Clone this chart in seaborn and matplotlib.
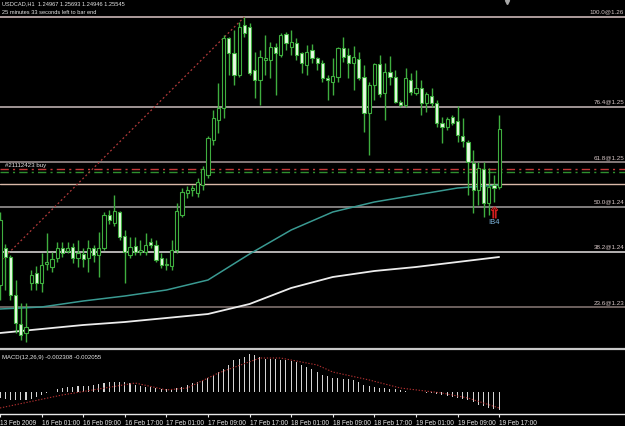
import numpy as np
import pandas as pd
import matplotlib
matplotlib.use("Agg")
import matplotlib.pyplot as plt
import seaborn as sns

sns.set_style("dark")
plt.rcParams['font.family'] = ['Liberation Sans', 'DejaVu Sans']

# ---------------- data ----------------
opens = [1.2399, 1.2436, 1.2427, 1.2389, 1.2360, 1.2351, 1.2401, 1.2411, 1.2401, 1.2420,
         1.2417, 1.2426, 1.2436, 1.2433, 1.2437, 1.2426, 1.2430, 1.2426, 1.2436, 1.2429,
         1.2436, 1.2469, 1.2461, 1.2472, 1.2448, 1.2429, 1.2438, 1.2432, 1.2432, 1.2442,
         1.2439, 1.2426, 1.2419, 1.2418, 1.2434, 1.2469, 1.2491, 1.2494, 1.2491, 1.2499,
         1.2509, 1.2544, 1.2564, 1.2576, 1.2646, 1.2631, 1.2609, 1.2659, 1.2657, 1.2614,
         1.2604, 1.2624, 1.2624, 1.2637, 1.2629, 1.2650, 1.2637, 1.2641, 1.2631, 1.2619,
         1.2634, 1.2626, 1.2621, 1.2606, 1.2602, 1.2607, 1.2636, 1.2629, 1.2621, 1.2625,
         1.2607, 1.2571, 1.2599, 1.2620, 1.2591, 1.2612, 1.2607, 1.2582, 1.2579, 1.2604,
         1.2591, 1.2596, 1.2581, 1.2588, 1.2581, 1.2561, 1.2557, 1.2567, 1.2563, 1.2548,
         1.2542, 1.2521, 1.2494, 1.2515, 1.2481, 1.2499, 1.24967]
highs = [1.2472, 1.2440, 1.2429, 1.2404, 1.2381, 1.2381, 1.2414, 1.2418, 1.2431, 1.2451,
         1.2432, 1.2442, 1.2442, 1.2442, 1.2441, 1.2444, 1.2436, 1.2444, 1.2439, 1.2452,
         1.2472, 1.2474, 1.2489, 1.2473, 1.2454, 1.2447, 1.2447, 1.2444, 1.2451, 1.2446,
         1.2444, 1.2431, 1.2426, 1.2444, 1.2481, 1.2496, 1.2498, 1.2499, 1.2506, 1.2518,
         1.2548, 1.2574, 1.2601, 1.2649, 1.2647, 1.2654, 1.2662, 1.2667, 1.2661, 1.2632,
         1.2634, 1.2649, 1.2642, 1.2641, 1.2651, 1.2652, 1.2654, 1.2646, 1.2632, 1.2639,
         1.2640, 1.2627, 1.2624, 1.2609, 1.2626, 1.2637, 1.2647, 1.2636, 1.2638, 1.2632,
         1.2619, 1.2602, 1.2621, 1.2629, 1.2621, 1.2628, 1.2614, 1.2584, 1.2616, 1.2611,
         1.2614, 1.2604, 1.2592, 1.2596, 1.2584, 1.2567, 1.2567, 1.2569, 1.2578, 1.2566,
         1.2544, 1.2534, 1.2522, 1.2522, 1.2516, 1.2509, 1.25693]
lows = [1.2384, 1.2394, 1.2384, 1.2351, 1.2344, 1.2342, 1.2394, 1.2394, 1.2392, 1.2414,
        1.2412, 1.2422, 1.2427, 1.2431, 1.2421, 1.2417, 1.2417, 1.2412, 1.2422, 1.2407,
        1.2434, 1.2460, 1.2458, 1.2444, 1.2401, 1.2426, 1.2429, 1.2429, 1.2429, 1.2436,
        1.2422, 1.2416, 1.2414, 1.2414, 1.2431, 1.2467, 1.2486, 1.2488, 1.2487, 1.2494,
        1.2506, 1.2539, 1.2551, 1.2566, 1.2609, 1.2599, 1.2607, 1.2647, 1.2609, 1.2586,
        1.2579, 1.2609, 1.2606, 1.2589, 1.2627, 1.2634, 1.2629, 1.2624, 1.2611, 1.2609,
        1.2621, 1.2614, 1.2602, 1.2584, 1.2589, 1.2602, 1.2622, 1.2606, 1.2594, 1.2604,
        1.2552, 1.2529, 1.2584, 1.2587, 1.2564, 1.2599, 1.2581, 1.2577, 1.2577, 1.2589,
        1.2589, 1.2569, 1.2572, 1.2577, 1.2557, 1.2541, 1.2554, 1.2559, 1.2542, 1.2537,
        1.2489, 1.2471, 1.2479, 1.2467, 1.2469, 1.2482, 1.24946]
closes = [1.2464, 1.2427, 1.2389, 1.2361, 1.2349, 1.2357, 1.2409, 1.2401, 1.2419, 1.2422,
          1.2425, 1.2436, 1.2431, 1.2436, 1.2426, 1.2431, 1.2425, 1.2436, 1.2429, 1.2436,
          1.2469, 1.2464, 1.2473, 1.2447, 1.2432, 1.2437, 1.2432, 1.2434, 1.2439, 1.2439,
          1.2424, 1.2419, 1.2420, 1.2434, 1.2473, 1.2492, 1.2494, 1.2496, 1.2502, 1.2515,
          1.2546, 1.2566, 1.2576, 1.2646, 1.2631, 1.2609, 1.2657, 1.2651, 1.2611, 1.2604,
          1.2627, 1.2626, 1.2637, 1.2631, 1.2649, 1.2641, 1.2642, 1.2629, 1.2621, 1.2632,
          1.2626, 1.2621, 1.2606, 1.2604, 1.2608, 1.2636, 1.2627, 1.2621, 1.2627, 1.2606,
          1.2571, 1.2599, 1.2620, 1.2590, 1.2612, 1.2607, 1.2582, 1.2579, 1.2606, 1.2592,
          1.2596, 1.2581, 1.2590, 1.2581, 1.2561, 1.2557, 1.2565, 1.2561, 1.2549, 1.2543,
          1.2522, 1.2494, 1.2516, 1.2481, 1.2497, 1.2496, 1.25545]

ma_bars = [0, 8, 16, 24, 32, 40, 48, 56, 64, 72, 80, 88, 96]
ma_fast = [1.2375, 1.2377, 1.2383, 1.2388, 1.2394, 1.2404, 1.2430, 1.2454, 1.2472,
           1.2482, 1.2489, 1.2496, 1.2499]
ma_slow = [1.2351, 1.2355, 1.2359, 1.2362, 1.2366, 1.2370, 1.2380, 1.2396, 1.2407,
           1.2413, 1.2417, 1.2422, 1.2427]

macd = [-0.00077, -0.00090, -0.00102, -0.00102, -0.00109, -0.00102, -0.00090, -0.00064,
        -0.00038, -0.00019, 0.00006, 0.00032, 0.00045, 0.00064, 0.00064, 0.00077, 0.00083,
        0.00083, 0.00090, 0.00096, 0.00109, 0.00122, 0.00134, 0.00128, 0.00122, 0.00109,
        0.00090, 0.00083, 0.00070, 0.00064, 0.00051, 0.00038, 0.00032, 0.00038, 0.00051,
        0.00070, 0.00090, 0.00115, 0.00128, 0.00147, 0.00179, 0.00218, 0.00256, 0.00294,
        0.00346, 0.00410, 0.00422, 0.00448, 0.00486, 0.00474, 0.00448, 0.00422, 0.00422,
        0.00422, 0.00410, 0.00410, 0.00397, 0.00384, 0.00346, 0.00320, 0.00294, 0.00256,
        0.00218, 0.00205, 0.00179, 0.00179, 0.00166, 0.00166, 0.00154, 0.00128, 0.00090,
        0.00077, 0.00064, 0.00051, 0.00051, 0.00038, 0.00038, 0.00026, 0.00013, 0.00004,
        0.00003, -0.00006, -0.00013, -0.00019, -0.00026, -0.00038, -0.00051, -0.00064,
        -0.00077, -0.00090, -0.00102, -0.00128, -0.00166, -0.00179, -0.00205, -0.00218,
        -0.002308]
signal_bars = [0, 12, 26, 32, 36, 42, 50, 54, 61, 64, 71, 77, 85, 90, 96]
signal = [-0.00205, -0.00038, 0.00115, 0.00026, 0.00051, 0.00243, 0.00435, 0.00435,
          0.00346, 0.00256, 0.00154, 0.00051, -0.00013, -0.00077, -0.002055]

tick_bars = [0, 8, 16, 24, 32, 40, 48, 56, 64, 72, 80, 88, 96]
tick_labels = ["13 Feb 2009", "16 Feb 01:00", "16 Feb 09:00", "16 Feb 17:00",
               "17 Feb 01:00", "17 Feb 09:00", "17 Feb 17:00", "18 Feb 01:00",
               "18 Feb 09:00", "18 Feb 17:00", "19 Feb 01:00", "19 Feb 09:00",
               "19 Feb 17:00"]

fib_low = 1.2287
fib_high = 1.2667
fib_anchor_bars = [-26, 47]
fib_pcts = [100.0, 76.4, 61.8, 50.0, 38.2, 23.6]
fib_labels = ["100.0@1.26", "76.4@1.25", "61.8@1.25", "50.0@1.24", "38.2@1.24", "23.6@1.23"]
fib_colors = ["#dcc6c6", "#cbbcbc", "#a89a9a", "#a4a0a0", "#e6e2e2", "#8a7a78"]

order_label = "#21112423 buy"
order_price = 1.2515
order_stop = 1.2512
level_line = 1.2500
arrow_bar = 95
arrow_price = 1.2472

title_1 = "USDCAD,H1  1.24967 1.25693 1.24946 1.25545"
title_2 = "25 minutes 33 seconds left to bar end"
macd_title = "MACD(12,26,9) -0.002308 -0.002055"

# ---------------- figure ----------------
W, H = 625, 426
fig = plt.figure(figsize=(W / 100, H / 100), dpi=100, facecolor="black")
ax = fig.add_axes([0, 1 - 349 / H, 1, 349 / H])
axm = fig.add_axes([0, 1 - 414 / H, 1, 63 / H], sharex=ax)
for a in (ax, axm):
    a.set_facecolor("black")
    for s in a.spines.values():
        s.set_visible(False)
    a.grid(False)

xmin, xmax = 0.123, 120.21
ax.set_xlim(xmin, xmax)
ax.set_ylim(1.2335, 1.2684)
axm.set_ylim(-0.00282, 0.00525)

idx = np.arange(len(opens))
df = pd.DataFrame({"bar": idx, "open": opens, "high": highs, "low": lows, "close": closes})

# fib + horizontal levels
for pct, lab, col in zip(fib_pcts, fib_labels, fib_colors):
    lvl = fib_low + pct / 100 * (fib_high - fib_low)
    ax.axhline(lvl, color=col, lw=1.1, zorder=1)
    ax.text(0.9985, lvl + 0.00022, lab, transform=ax.get_yaxis_transform(),
            color="#d8c8c8", fontsize=4.5, ha="right", va="bottom", zorder=6)
ax.axhline(level_line, color="#d9b8a8", lw=1.0, zorder=1)
ax.axhline(order_price, color="#c43a3a", lw=1.0, ls=(0, (6, 3, 1.5, 3)), zorder=1)
ax.axhline(order_stop, color="#2f8f2f", lw=1.0, ls=(0, (6, 3, 1.5, 3)), zorder=1)
ax.text(1.0, order_price + 0.0001, order_label, color="#e0e0e0", fontsize=4.4,
        ha="left", va="bottom", zorder=6)

# fib trend line
ax.plot(fib_anchor_bars, [fib_low, fib_high], color="#b03a3a", lw=0.9, ls=(0, (1.5, 2)), zorder=2)

# moving averages
sns.lineplot(x=ma_bars, y=ma_fast, ax=ax, color="#3a9a92", lw=1.1, zorder=2)
sns.lineplot(x=ma_bars, y=ma_slow, ax=ax, color="#ececec", lw=1.3, zorder=2)

# candles
green = "#3fae3f"
ax.vlines(df["bar"], df["low"], df["high"], color=green, lw=1.0, zorder=3)
bull = df["close"] >= df["open"]
body_lo = np.minimum(df["open"], df["close"])
body_h = np.maximum(np.abs(df["close"] - df["open"]), 0.00008)
ax.bar(df["bar"][bull], body_h[bull], bottom=body_lo[bull], width=0.62,
       color="black", edgecolor=green, lw=0.8, zorder=4)
ax.bar(df["bar"][~bull], body_h[~bull], bottom=body_lo[~bull], width=0.62,
       color="#e8fce4", edgecolor=green, lw=0.8, zorder=4)

# arrow + label
ax.plot([arrow_bar], [arrow_price], marker=r"$\Uparrow$", mfc="none", mec="#e02020",
        mew=0.6, ms=8, zorder=6)
ax.text(arrow_bar, arrow_price - 0.00105, "IB4", color="#7fb8e0", fontsize=5.5, ha="center",
        va="center", zorder=6)

# titles
ax.text(0.004, 0.996, title_1, transform=ax.transAxes, color="#e8e8e8", fontsize=4.1, ha="left", va="top")
ax.text(0.004, 0.971, title_2, transform=ax.transAxes, color="#e8e8e8", fontsize=4.1, ha="left", va="top")
ax.plot([97.5], [1.2682], marker="v", color="#a8a8a8", ms=3, clip_on=False, zorder=7)

ax.set_xticks([])
ax.set_yticks([])
ax.set_xlabel("")
ax.set_ylabel("")

# MACD
axm.bar(idx, macd, width=0.2, lw=0, color="#d4d4d4", antialiased=False, zorder=2)
sns.lineplot(x=signal_bars, y=signal, ax=axm, color="#b03030", lw=0.8, ls=(0, (1.2, 1.5)), zorder=3)
axm.text(0.003, 0.93, macd_title, transform=axm.transAxes, color="#e8e8e8", fontsize=4.3, ha="left", va="top")
axm.set_yticks([])
axm.set_ylabel("")
axm.set_xlabel("")
axm.set_xticks(tick_bars)
axm.set_xticklabels(tick_labels, ha="left", fontsize=4.7, color="#e8e8e8")
axm.tick_params(axis="x", direction="out", length=2.5, width=0.8, color="#e8e8e8", pad=1.5, bottom=True)
axm.spines["bottom"].set_visible(True)
axm.spines["bottom"].set_color("#e8e8e8")
axm.spines["bottom"].set_linewidth(1.0)
ax.spines["bottom"].set_visible(True)
ax.spines["bottom"].set_color("#c8c8c8")
ax.spines["bottom"].set_linewidth(1.6)
plt.setp(ax.get_xticklabels(), visible=False)

fig.savefig("out.png", dpi=100, facecolor="black")
